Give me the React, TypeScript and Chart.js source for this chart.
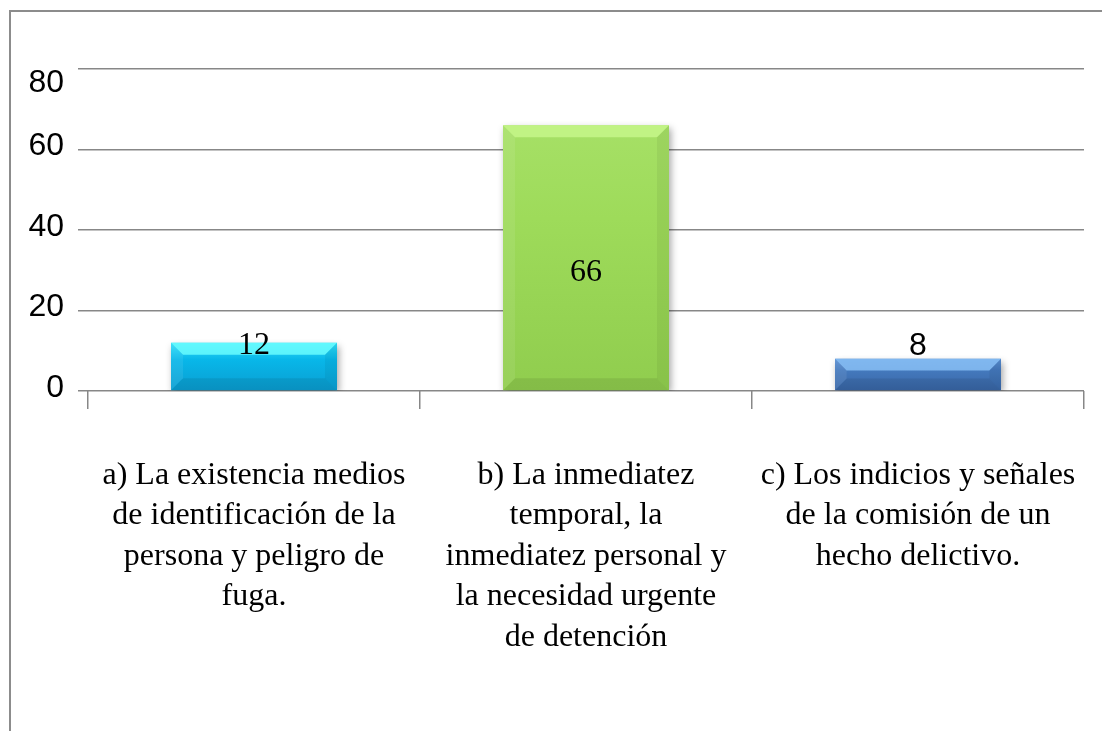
import React, { useEffect, useRef } from "react";
import { Chart, registerables } from "chart.js";

Chart.register(...registerables);

// ---- data ----
const categories: string[][] = [
  ["a) La existencia medios", "de identificación de la", "persona y peligro de", "fuga."],
  ["b) La inmediatez", "temporal, la", "inmediatez personal y", "la necesidad urgente", "de detención"],
  ["c) Los indicios y señales", "de la comisión de un", "hecho delictivo."],
];
const values: number[] = [12, 66, 8];
const valueLabels: string[] = ["12", "66", "8"];
const yTicks: number[] = [0, 20, 40, 60, 80];

// ---- styles ----
const SERIF = '"Liberation Serif", "Times New Roman", serif';
const SANS = '"Liberation Sans", Arial, sans-serif';
const GRID = "#878787";
const barGradients: string[][] = [
  ["#30def8", "#08b7e9", "#0a9dd1"],
  ["#a6e066", "#9edb5a", "#90cd4e"],
  ["#5a8fd2", "#4479bd", "#3866a6"],
];
const bevelTop: string[] = ["rgba(110,255,255,0.8)", "rgba(200,248,140,0.8)", "rgba(135,190,245,0.85)"];
const labelFonts: string[] = [SERIF, SERIF, SANS];
const labelDy: number[] = [3, 147, -13];

const decorPlugin = {
  id: "decor",
  beforeDatasetsDraw(chart: any) {
    const ctx = chart.ctx;
    ctx.save();
    ctx.shadowColor = "rgba(0,0,0,0.35)";
    ctx.shadowBlur = 7;
    ctx.shadowOffsetX = 2;
    ctx.shadowOffsetY = 3;
  },
  afterDatasetsDraw(chart: any) {
    const ctx = chart.ctx;
    ctx.restore();
    const meta = chart.getDatasetMeta(0);
    meta.data.forEach((bar: any, i: number) => {
      const { x, y, base, width } = bar.getProps(["x", "y", "base", "width"], true);
      const x0 = x - width / 2;
      const x1 = x + width / 2;
      const y0 = y;
      const y1 = base;
      const b = Math.min(12, (y1 - y0) / 2.7);
      ctx.save();
      ctx.beginPath();
      ctx.moveTo(x0, y0);
      ctx.lineTo(x1, y0);
      ctx.lineTo(x1 - b, y0 + b);
      ctx.lineTo(x0 + b, y0 + b);
      ctx.closePath();
      ctx.fillStyle = bevelTop[i];
      ctx.fill();
      ctx.beginPath();
      ctx.moveTo(x0, y0);
      ctx.lineTo(x0 + b, y0 + b);
      ctx.lineTo(x0 + b, y1 - b);
      ctx.lineTo(x0, y1);
      ctx.closePath();
      ctx.fillStyle = "rgba(255,255,255,0.08)";
      ctx.fill();
      ctx.beginPath();
      ctx.moveTo(x1, y0);
      ctx.lineTo(x1 - b, y0 + b);
      ctx.lineTo(x1 - b, y1 - b);
      ctx.lineTo(x1, y1);
      ctx.closePath();
      ctx.fillStyle = "rgba(0,0,0,0.05)";
      ctx.fill();
      ctx.beginPath();
      ctx.moveTo(x0, y1);
      ctx.lineTo(x1, y1);
      ctx.lineTo(x1 - b, y1 - b);
      ctx.lineTo(x0 + b, y1 - b);
      ctx.closePath();
      ctx.fillStyle = "rgba(0,0,0,0.08)";
      ctx.fill();
      ctx.restore();

      ctx.save();
      ctx.font = `32px ${labelFonts[i]}`;
      ctx.fillStyle = "#000";
      ctx.textAlign = "center";
      ctx.textBaseline = "middle";
      ctx.fillText(valueLabels[i], x, y0 + labelDy[i]);
      ctx.restore();
    });
  },
};

export default function App() {
  const ref = useRef<HTMLCanvasElement | null>(null);

  useEffect(() => {
    if (!ref.current) return;
    const chart = new Chart(ref.current, {
      type: "bar",
      data: {
        labels: categories,
        datasets: [
          {
            data: values,
            borderWidth: 0,
            categoryPercentage: 1,
            barPercentage: 0.5,
            backgroundColor: (c: any) => {
              const ch = c.chart;
              const ys = ch.scales?.y;
              const i = c.dataIndex ?? 0;
              const cols = barGradients[i % barGradients.length];
              if (!ys || c.raw === undefined) return cols[1];
              const top = ys.getPixelForValue(c.raw);
              const bot = ys.getPixelForValue(0);
              if (!isFinite(top) || !isFinite(bot) || top === bot) return cols[1];
              const g = ch.ctx.createLinearGradient(0, top, 0, bot);
              g.addColorStop(0, cols[0]);
              g.addColorStop(0.35, cols[1]);
              g.addColorStop(1, cols[2]);
              return g;
            },
          },
        ],
      },
      options: {
        animation: false,
        responsive: false,
        devicePixelRatio: 1,
        layout: { padding: { top: 61, right: 26, left: 0, bottom: 0 } },
        plugins: {
          legend: { display: false },
          tooltip: { enabled: false },
          title: { display: false },
        },
        scales: {
          x: {
            offset: true,
            border: { display: false },
            grid: {
              offset: true,
              drawOnChartArea: false,
              drawTicks: true,
              tickLength: 18,
              color: GRID,
              lineWidth: 1.5,
            },
            ticks: {
              autoSkip: false,
              maxRotation: 0,
              minRotation: 0,
              padding: 46,
              color: "#000",
              font: { family: SERIF, size: 32, lineHeight: 1.265 },
            },
            afterFit: (s: any) => {
              s.height = 340;
              s.paddingLeft = 0;
              s.paddingRight = 0;
            },
          },
          y: {
            min: 0,
            max: 80,
            border: { display: false },
            grid: {
              color: GRID,
              lineWidth: 1.5,
              drawTicks: true,
              tickLength: 10,
            },
            ticks: {
              color: "#000",
              padding: 14,
              labelOffset: -3,
              font: { family: SANS, size: 32, lineHeight: 1.1 },
              callback: (v: any) => (v === 80 ? ["", "80"] : String(v)),
            },
            afterBuildTicks: (s: any) => {
              s.ticks = yTicks.map((v) => ({ value: v }));
            },
            afterFit: (s: any) => {
              s.width = 80;
            },
          },
        },
      },
      plugins: [decorPlugin],
    } as any);
    return () => chart.destroy();
  }, []);

  return (
    <div style={{ position: "relative", width: 1102, height: 723, overflow: "hidden", background: "#fff" }}>
      <div
        style={{
          position: "absolute",
          left: 1,
          top: 2,
          width: 1300,
          height: 900,
          borderTop: "2px solid #8c8c8c",
          borderLeft: "2px solid #8c8c8c",
          boxSizing: "border-box",
        }}
      />
      <canvas
        ref={ref}
        width={1102}
        height={723}
        style={{ position: "absolute", left: 0, top: 0, width: 1102, height: 723, display: "block" }}
      />
    </div>
  );
}
